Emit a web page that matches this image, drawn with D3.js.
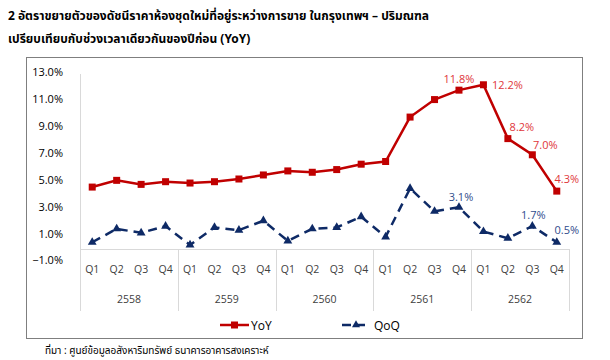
<!DOCTYPE html>
<html>
<head>
<meta charset="utf-8">
<script src="https://cdn.jsdelivr.net/npm/d3@7"></script>
<style>
  body { margin: 0; background: #fff; }
  svg { display: block; }
  text { font-family: "Open Sans", "Noto Sans", sans-serif; }
  .thai { font-family: "Noto Sans Thai", "Tahoma", "DejaVu Sans", sans-serif; }
</style>
</head>
<body>
<div id="container"></div>
<script>
var years = ["2558", "2559", "2560", "2561", "2562"];
var quarters = ["Q1", "Q2", "Q3", "Q4"];
var yoy = [4.6, 5.1, 4.8, 5.0, 4.9, 5.0, 5.2, 5.5, 5.8, 5.7, 5.9, 6.3, 6.5, 9.8, 11.1, 11.8, 12.2, 8.2, 7.0, 4.3];
var qoq = [0.5, 1.5, 1.2, 1.7, 0.3, 1.6, 1.4, 2.1, 0.6, 1.5, 1.6, 2.4, 0.9, 4.5, 2.8, 3.1, 1.3, 0.8, 1.7, 0.5];
var yTicks = [-1, 1, 3, 5, 7, 9, 11, 13];
var yoyLabels = [{ i: 15, text: "11.8%" }, { i: 16, text: "12.2%" }, { i: 17, text: "8.2%" }, { i: 18, text: "7.0%" }, { i: 19, text: "4.3%" }];
var qoqLabels = [{ i: 15, text: "3.1%" }, { i: 18, text: "1.7%" }, { i: 19, text: "0.5%" }];

var titleLines = ["2 อัตราขยายตัวของดัชนีราคาห้องชุดใหม่ที่อยู่ระหว่างการขาย ในกรุงเทพฯ – ปริมณฑล",
    "เปรียบเทียบกับช่วงเวลาเดียวกันของปีก่อน (YoY)"];
var sourceText = "ที่มา : ศูนย์ข้อมูลอสังหาริมทรัพย์ ธนาคารอาคารสงเคราะห์";

var red = "#C00000", redText = "#E0363A";
var navy = "#0E2A66", navyText = "#2F4C8C";

var svg = d3.select("#container").append("svg")
    .attr("width", 610)
    .attr("height", 360);

// title
svg.selectAll("text.title")
    .data(titleLines)
    .enter().append("text")
    .attr("class", "title thai")
    .attr("x", 8)
    .attr("y", (d, i) => 20 + i * 23)
    .attr("font-size", 12)
    .attr("font-weight", "bold")
    .attr("fill", "#000")
    .text(d => d);

// chart border
svg.append("rect")
    .attr("x", 26.5).attr("y", 57.5)
    .attr("width", 556).attr("height", 281)
    .attr("fill", "none")
    .attr("stroke", "#7f7f7f");

var cats = [];
years.forEach(y => quarters.forEach(q => cats.push(y + q)));

var x = d3.scaleBand().domain(cats).range([80, 569]);
var y = d3.scaleLinear().domain([0, 13]).range([249, 74]);

var grid = "#D9D9D9";

// value axis line
svg.append("line")
    .attr("x1", 80.5).attr("x2", 80.5)
    .attr("y1", y(13)).attr("y2", 311)
    .attr("stroke", grid);

// category axis line
svg.append("line")
    .attr("x1", 80).attr("x2", 569)
    .attr("y1", y(0) + 0.5).attr("y2", y(0) + 0.5)
    .attr("stroke", grid);

// year separators
svg.selectAll("line.sep")
    .data(years)
    .enter().append("line")
    .attr("class", "sep")
    .attr("x1", (d, i) => Math.round(x(d + "Q4") + x.bandwidth()) + 0.5)
    .attr("x2", (d, i) => Math.round(x(d + "Q4") + x.bandwidth()) + 0.5)
    .attr("y1", y(0))
    .attr("y2", 311)
    .attr("stroke", grid);

// y tick labels
svg.selectAll("text.ytick")
    .data(yTicks)
    .enter().append("text")
    .attr("class", "ytick")
    .attr("x", 63)
    .attr("y", d => y(d) + 2)
    .attr("text-anchor", "end")
    .attr("font-size", 11)
    .attr("fill", "#000")
    .text(d => d3.format(".1f")(d) + "%");

// quarter labels
svg.selectAll("text.qtick")
    .data(cats)
    .enter().append("text")
    .attr("class", "qtick")
    .attr("x", d => x(d) + x.bandwidth() / 2)
    .attr("y", 273)
    .attr("text-anchor", "middle")
    .attr("font-size", 10.5)
    .attr("fill", "#404040")
    .text(d => d.slice(4));

// year labels
svg.selectAll("text.yrtick")
    .data(years)
    .enter().append("text")
    .attr("class", "yrtick")
    .attr("x", d => x(d + "Q1") + 2 * x.bandwidth())
    .attr("y", 303)
    .attr("text-anchor", "middle")
    .attr("font-size", 10.5)
    .attr("fill", "#404040")
    .text(d => d);

var cx = (d, i) => x(cats[i]) + x.bandwidth() / 2;

// QoQ
svg.append("path")
    .datum(qoq)
    .attr("fill", "none")
    .attr("stroke", navy)
    .attr("stroke-width", 2.5)
    .attr("stroke-dasharray", "9,6")
    .attr("d", d3.line().x(cx).y(d => y(d)));

svg.selectAll("path.tri")
    .data(qoq)
    .enter().append("path")
    .attr("class", "tri")
    .attr("transform", (d, i) => `translate(${cx(d, i)},${y(d)})`)
    .attr("d", d3.symbol(d3.symbolTriangle, 34))
    .attr("fill", navy);

// YoY
svg.append("path")
    .datum(yoy)
    .attr("fill", "none")
    .attr("stroke", red)
    .attr("stroke-width", 2.5)
    .attr("d", d3.line().x(cx).y(d => y(d)));

svg.selectAll("rect.sq")
    .data(yoy)
    .enter().append("rect")
    .attr("class", "sq")
    .attr("x", (d, i) => cx(d, i) - 3.5)
    .attr("y", d => y(d) - 3.5)
    .attr("width", 7)
    .attr("height", 7)
    .attr("fill", red);

// data labels
var yoyOffset = { 15: [0, -11], 16: [24, 0], 17: [14, -12], 18: [13, -10], 19: [10, -12] };
svg.selectAll("text.ylab")
    .data(yoyLabels)
    .enter().append("text")
    .attr("class", "ylab")
    .attr("x", d => cx(0, d.i) + yoyOffset[d.i][0])
    .attr("y", d => y(yoy[d.i]) + yoyOffset[d.i][1] + 4)
    .attr("text-anchor", "middle")
    .attr("font-size", 11)
    .attr("fill", redText)
    .text(d => d.text);

var qoqOffset = { 15: [2, -10], 18: [1, -11], 19: [10, -12] };
svg.selectAll("text.qlab")
    .data(qoqLabels)
    .enter().append("text")
    .attr("class", "qlab")
    .attr("x", d => cx(0, d.i) + qoqOffset[d.i][0])
    .attr("y", d => y(qoq[d.i]) + qoqOffset[d.i][1] + 4)
    .attr("text-anchor", "middle")
    .attr("font-size", 11)
    .attr("fill", navyText)
    .text(d => d.text);

// legend
var legend = svg.append("g").attr("transform", "translate(220,325)");
legend.append("line").attr("x1", 0).attr("x2", 29).attr("y1", 0).attr("y2", 0)
    .attr("stroke", red).attr("stroke-width", 2.5);
legend.append("rect").attr("x", 11).attr("y", -3.5).attr("width", 7).attr("height", 7).attr("fill", red);
legend.append("text").attr("x", 31).attr("y", 4.5).attr("font-size", 12).attr("fill", "#000").text("YoY");

var legend2 = svg.append("g").attr("transform", "translate(342,325)");
legend2.append("line").attr("x1", 0).attr("x2", 28).attr("y1", 0).attr("y2", 0)
    .attr("stroke", navy).attr("stroke-width", 2.5).attr("stroke-dasharray", "9,5");
legend2.append("path").attr("transform", "translate(14,0)")
    .attr("d", d3.symbol(d3.symbolTriangle, 28)).attr("fill", navy);
legend2.append("text").attr("x", 32).attr("y", 4.5).attr("font-size", 12).attr("fill", "#000").text("QoQ");

// source
svg.append("text")
    .attr("class", "thai")
    .attr("x", 45)
    .attr("y", 354)
    .attr("font-size", 10)
    .attr("fill", "#000")
    .text(sourceText);
</script>
</body>
</html>
